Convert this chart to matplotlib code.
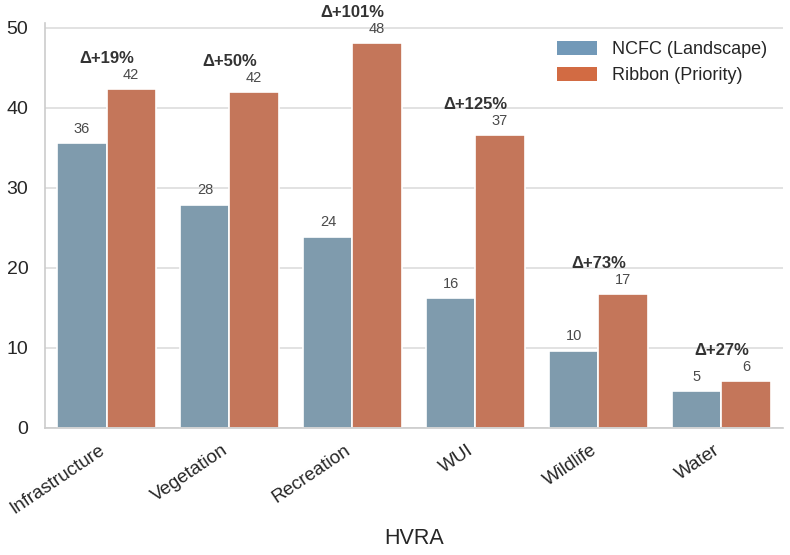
import matplotlib
matplotlib.use("Agg")
import matplotlib.pyplot as plt
import matplotlib.transforms as mtransforms
import seaborn as sns
import numpy as np
from matplotlib.patches import Patch

categories = ["Infrastructure", "Vegetation", "Recreation", "WUI", "Wildlife", "Water"]
ncfc = [35.6, 27.9, 23.9, 16.25, 9.65, 4.55]
ribbon = [42.3, 41.9, 48.1, 36.6, 16.7, 5.8]
series_names = ["NCFC (Landscape)", "Ribbon (Priority)"]

sns.set_theme(style="whitegrid")
plt.rcParams["font.family"] = ["Liberation Sans", "DejaVu Sans"]

bar_colors = ["#7f9bad", "#c4765a"]
legend_colors = ["#7299b8", "#d26b43"]

fig = plt.figure(figsize=(7.9, 5.55), dpi=100)
ax = fig.add_axes([0.057, 0.229, 0.934, 0.730])

x = np.arange(len(categories))
w = 0.4
ax.bar(x - w / 2, ncfc, width=w, color=bar_colors[0], edgecolor="white", linewidth=1.2)
ax.bar(x + w / 2, ribbon, width=w, color=bar_colors[1], edgecolor="white", linewidth=1.2)

for xi, v in zip(x - w / 2, ncfc):
    ax.text(xi, v + 0.9, f"{v:.0f}", ha="center", va="bottom", fontsize=10.5, color="#4a4a4a")
for xi, v in zip(x + w / 2, ribbon):
    ax.text(xi, v + 0.9, f"{v:.0f}", ha="center", va="bottom", fontsize=10.5, color="#4a4a4a")

for xi, n, r in zip(x, ncfc, ribbon):
    d = (r / n - 1) * 100
    ax.text(xi, max(n, r) + 2.9, f"Δ+{d:.0f}%", ha="center", va="bottom",
            fontsize=12, fontweight="bold", color="#333333")

ax.set_xlim(-0.5, len(categories) - 0.5)
ax.set_ylim(0, 50.6)
ax.set_yticks([0, 10, 20, 30, 40, 50])
ax.set_xticks(x)
ax.set_xticklabels(categories, rotation=34, ha="right", rotation_mode="anchor", fontsize=13.5)
ax.tick_params(axis="y", labelsize=14, pad=6)
ax.tick_params(axis="x", pad=6)
offset = mtransforms.ScaledTranslation(-8 / 100, 3 / 100, fig.dpi_scale_trans)
for lab in ax.get_xticklabels():
    lab.set_transform(lab.get_transform() + offset)
ax.set_xlabel("HVRA", fontsize=15.5, labelpad=8)
ax.grid(axis="x", visible=False)
ax.grid(axis="y", color="#dddddd", linewidth=1.2)
sns.despine(ax=ax)
for s in ["left", "bottom"]:
    ax.spines[s].set_color("#cccccc")
    ax.spines[s].set_linewidth(1.2)

handles = [Patch(facecolor=c, edgecolor="none") for c in legend_colors]
ax.legend(handles, series_names, loc="upper right", fontsize=13, frameon=False,
          bbox_to_anchor=(1.0, 0.995), handlelength=2.2, handleheight=0.85,
          labelspacing=0.45, handletextpad=0.8)

fig.savefig("out.png", dpi=100)
